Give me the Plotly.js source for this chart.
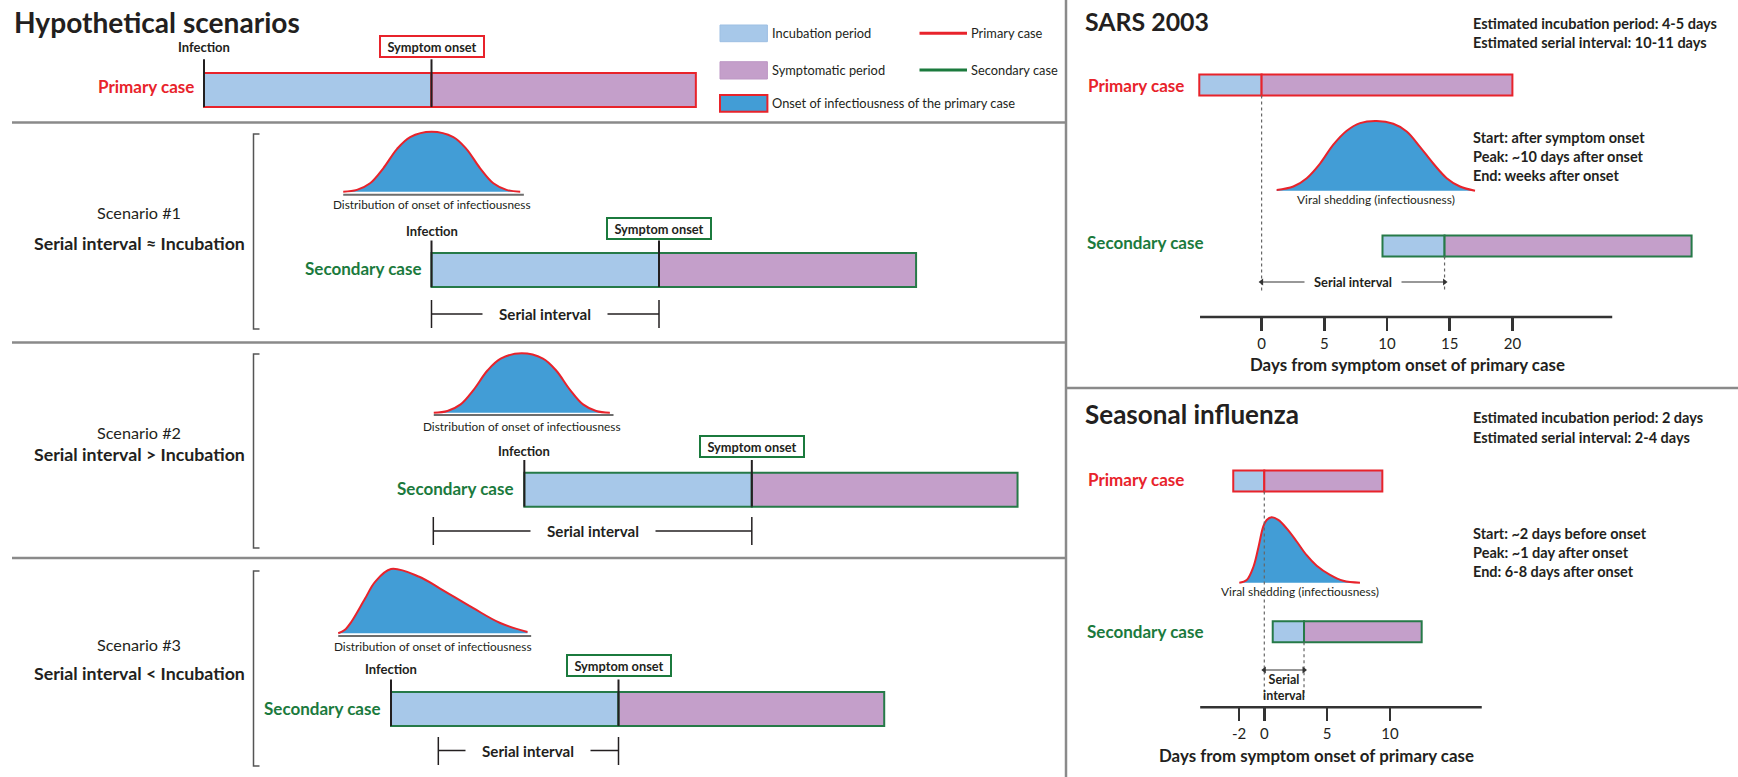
<!DOCTYPE html>
<html><head><meta charset="utf-8">
<script src="https://cdn.plot.ly/plotly-3.0.1.min.js"></script>
<style>html,body{margin:0;padding:0;background:#fff;} #chart{width:1738px;height:777px;}</style>
</head><body><div id="chart"></div>
<script>
// ================= DATA =================
// Hypothetical scenarios (schematic time units; primary infection = 0)
const hypoCases = ['Primary case', 'Secondary case', 'Secondary case', 'Secondary case'];
const hypoInfection = [0, 5.0, 7.04, 4.11];
const hypoOnset = [5.0, 10.0, 12.04, 9.11];
const hypoEnd = [10.81, 15.65, 17.88, 14.95];
const serialStart = [5.0, 5.04, 5.15];
const serialEnd = [10.0, 12.04, 9.11];
const scenarioNames = ['Scenario #1', 'Scenario #2', 'Scenario #3'];
const scenarioRelations = ['Serial interval \u2248 Incubation', 'Serial interval > Incubation', 'Serial interval < Incubation'];
// Distribution of onset of infectiousness: time and relative height
const dist1T = [3.06, 3.36, 3.65, 3.94, 4.24, 4.53, 5.0, 5.48, 5.77, 6.07, 6.36, 6.65, 6.95];
const dist1H = [0, 0.03, 0.14, 0.39, 0.71, 0.91, 1, 0.91, 0.71, 0.39, 0.14, 0.03, 0];
const dist2T = [5.05, 5.35, 5.64, 5.93, 6.23, 6.52, 6.98, 7.45, 7.74, 8.04, 8.33, 8.62, 8.92];
const dist2H = [0, 0.03, 0.14, 0.39, 0.71, 0.91, 1, 0.91, 0.71, 0.39, 0.14, 0.03, 0];
const dist3T = [2.95, 3.09, 3.24, 3.54, 3.76, 4.11, 4.73, 5.18, 5.92, 6.51, 7.11];
const dist3H = [0, 0.05, 0.18, 0.54, 0.80, 1, 0.88, 0.70, 0.39, 0.16, 0.02];
const legendLabels = ['Incubation period', 'Symptomatic period', 'Onset of infectiousness of the primary case', 'Primary case', 'Secondary case'];

// SARS 2003 (days from symptom onset of primary case)
const sarsPrimary = [-4.97, 0, 20.0];      // infection, onset, end
const sarsSecondary = [9.64, 14.59, 34.29];
const sarsSerial = [0, 14.59];
const sarsShedT = [1.2, 2.53, 3.6, 4.66, 5.72, 6.79, 7.85, 9.18, 10.5, 11.57, 12.63, 13.69, 14.76, 15.82, 17.02];
const sarsShedH = [0.01, 0.06, 0.18, 0.39, 0.66, 0.86, 0.97, 1, 0.96, 0.85, 0.63, 0.39, 0.18, 0.06, 0];
const sarsTicks = [0, 5, 10, 15, 20];
const sarsAxisExtent = [-4.91, 27.96];
const sarsNotes = ['Estimated incubation period: 4-5 days', 'Estimated serial interval: 10-11 days'];
const sarsShedNotes = ['Start: after symptom onset', 'Peak: ~10 days after onset', 'End: weeks after onset'];

// Seasonal influenza
const fluPrimary = [-2.47, 0, 9.39];
const fluSecondary = [0.67, 3.16, 12.52];
const fluSerial = [0, 3.16];
const fluShedT = [-1.99, -1.4, -0.87, -0.48, -0.08, 0.19, 0.59, 1.11, 1.78, 2.58, 3.37, 4.17, 5.23, 6.28, 7.61];
const fluShedH = [0, 0.04, 0.24, 0.53, 0.86, 0.96, 1, 0.96, 0.83, 0.63, 0.42, 0.26, 0.12, 0.03, 0];
const fluTicks = [-2, 0, 5, 10];
const fluAxisExtent = [-5.1, 17.3];
const fluNotes = ['Estimated incubation period: 2 days', 'Estimated serial interval: 2-4 days'];
const fluShedNotes = ['Start: ~2 days before onset', 'Peak: ~1 day after onset', 'End: 6-8 days after onset'];
const axisTitle = 'Days from symptom onset of primary case';

// ================= STYLE / LAYOUT CONSTANTS =================
const W = 1738, H = 777;
const FAMILY = 'Lato';
const FONT = 'Lato, Roboto, "Liberation Sans", sans-serif';
const RED = '#e8232b', GREEN = '#1b7a3d', GREEN_LINE = '#267a48', BLUE_L = '#a7c8e9',
      PURPLE = '#c49fca', BLUE_F = '#429dd6', DARK = '#231f20', SEP = '#8a8a8a';
const LEFT_W = 1066;
const hypoT0 = 204, hypoScale = 45.5;        // px of t=0, px per unit
const sarsX0 = 1261.6, sarsScale = 12.54;
const fluX0 = 1264.3, fluScale = 12.57;

const hypoBarY = [90, 270, 489.7, 709], hypoBarW = 34;
const hypoLabelY = [86, 268.5, 488.3, 708];
const infLabelY = [47, 231, 450.5, 669];
const onsetBoxY = [46.2, 228.5, 446.5, 665.5];
const markerTop = [59.3, 240.5, 460, 679.5];
const distBase = [191.7, 412.7, 633.3], distHeight = [60, 59.4, 64.3], distLineY = [194.7, 415, 636], distCapY = [204.5, 426.5, 646];
const serialY = [314, 531, 750.5], serialTop = [300, 517, 737], serialBot = [328, 545, 765];
const bracketY = [[134, 329], [354, 548], [571, 766]], bracketX = 253.5;
const scenY = [[212, 243], [432, 454], [644, 673]], scenX = 139;

// font sizes fitted to the text widths of the reference
const ctx = document.createElement('canvas').getContext('2d');
function fit(text, weight, target) {
  ctx.font = `${weight} 100px ${FAMILY}`;
  return 100 * target / ctx.measureText(text).width;
}
const SZ = {
  title: fit('Hypothetical scenarios', 700, 286),
  sars: fit('SARS 2003', 700, 124),
  flu: fit('Seasonal influenza', 700, 214),
  notes: fit(sarsNotes[0], 700, 244),
  cases: fit('Secondary case', 700, 117),
  scen: fit('Scenario #1', 400, 84),
  rel: fit(scenarioRelations[0], 700, 211),
  inf: fit('Infection', 700, 52),
  onset: fit('Symptom onset', 700, 89),
  dist: fit('Distribution of onset of infectiousness', 400, 198),
  serialL: fit('Serial interval', 700, 92),
  legend: fit(legendLabels[2], 400, 244),
  shed: fit('Viral shedding (infectiousness)', 400, 158),
  serialR: fit('Serial interval', 700, 78),
  serialF: fit('interval', 700, 43),
  axisTitle: fit(axisTitle, 700, 316),
  tick: 15
};

const px = x => x / W;
const traces = [];
const shapes = [];
const annotations = [];

function bar(xa, y, start, end, fill, lc, w) {
  return {type: 'bar', orientation: 'h', xaxis: xa, yaxis: 'y', y: [y], base: [start], x: [end - start],
    width: [w], marker: {color: fill, line: {color: lc, width: 2}}, hoverinfo: 'skip', showlegend: false};
}
function seg(xa, xs, ys, color, width, dash) {
  return {type: 'scatter', mode: 'lines', xaxis: xa, yaxis: 'y', x: xs, y: ys,
    line: {color: color, width: width, dash: dash || 'solid'}, hoverinfo: 'skip', showlegend: false};
}
function curve(xa, T, Hh, base, height) {
  traces.push({type: 'scatter', mode: 'lines', xaxis: xa, yaxis: 'y', x: T, y: T.map(() => base),
    line: {width: 0, color: 'rgba(0,0,0,0)'}, hoverinfo: 'skip', showlegend: false});
  traces.push({type: 'scatter', mode: 'lines', xaxis: xa, yaxis: 'y', x: T, y: Hh.map(h => base - h * height),
    line: {color: RED, width: 2, shape: 'spline', smoothing: 1}, fill: 'tonexty', fillcolor: BLUE_F,
    hoverinfo: 'skip', showlegend: false});
}
function ann(text, x, y, o) {
  o = o || {};
  return Object.assign({text: text, x: x, y: y, xref: o.xref || 'paper', yref: 'y', showarrow: false,
    xanchor: o.xanchor || 'left', yanchor: 'middle',
    font: {family: FONT, size: o.size || 14, color: o.color || DARK, weight: o.weight || 400}},
    o.extra || {});
}
function hline(x0, x1, y, color, w) {
  shapes.push({type: 'line', xref: 'paper', yref: 'y', x0: px(x0), x1: px(x1), y0: y, y1: y, line: {color: color, width: w}});
}

// ================= LEFT PANEL =================
annotations.push(ann('Hypothetical scenarios', px(12), 22, {size: SZ.title, weight: 700}));

for (let i = 0; i < 4; i++) {
  const col = i === 0 ? RED : GREEN_LINE;
  traces.push(bar('x', hypoBarY[i], hypoInfection[i], hypoOnset[i], BLUE_L, col, hypoBarW));
  traces.push(bar('x', hypoBarY[i], hypoOnset[i], hypoEnd[i], PURPLE, col, hypoBarW));
  const bot = hypoBarY[i] + hypoBarW / 2;
  traces.push(seg('x', [hypoInfection[i], hypoInfection[i], null, hypoOnset[i], hypoOnset[i]],
    [markerTop[i], bot, null, markerTop[i], bot], DARK, 2));
  annotations.push(ann(hypoCases[i], hypoInfection[i], hypoLabelY[i],
    {xref: 'x', xanchor: 'right', size: SZ.cases, weight: 700, color: i === 0 ? RED : GREEN, extra: {xshift: -8}}));
  annotations.push(ann('Infection', hypoInfection[i], infLabelY[i], {xref: 'x', xanchor: 'center', size: SZ.inf, weight: 700}));
  annotations.push(ann('Symptom onset', hypoOnset[i], onsetBoxY[i], {xref: 'x', xanchor: 'center', size: SZ.onset, weight: 700,
    extra: {bordercolor: i === 0 ? RED : GREEN, borderwidth: 2, bgcolor: '#ffffff', width: 100, height: 17, borderpad: 1}}));
}

const distT = [dist1T, dist2T, dist3T], distH = [dist1H, dist2H, dist3H];
for (let k = 0; k < 3; k++) {
  const T = distT[k];
  traces.push(seg('x', [T[0], T[T.length - 1] + 0.08], [distLineY[k], distLineY[k]], '#6d6d6d', 2));
  curve('x', T, distH[k], distBase[k], distHeight[k]);
  annotations.push(ann('Distribution of onset of infectiousness', (T[0] + T[T.length - 1]) / 2, distCapY[k],
    {xref: 'x', xanchor: 'center', size: SZ.dist}));
  // serial interval bracket
  traces.push(seg('x', [serialStart[k], serialEnd[k]], [serialY[k], serialY[k]], DARK, 1.5));
  traces.push(seg('x', [serialStart[k], serialStart[k], null, serialEnd[k], serialEnd[k]],
    [serialTop[k], serialBot[k], null, serialTop[k], serialBot[k]], DARK, 1.5));
  annotations.push(ann('Serial interval', (serialStart[k] + serialEnd[k]) / 2, serialY[k],
    {xref: 'x', xanchor: 'center', size: SZ.serialL, weight: 700, extra: {bgcolor: '#ffffff', width: 122}}));
  // scenario text + bracket
  annotations.push(ann(scenarioNames[k], px(scenX), scenY[k][0], {xanchor: 'center', size: SZ.scen}));
  annotations.push(ann(scenarioRelations[k], px(scenX), scenY[k][1], {xanchor: 'center', size: SZ.rel, weight: 700}));
  const bx = px(bracketX), bx2 = px(bracketX + 6);
  shapes.push({type: 'path', xref: 'paper', yref: 'y',
    path: `M ${bx2},${bracketY[k][0]} L ${bx},${bracketY[k][0]} L ${bx},${bracketY[k][1]} L ${bx2},${bracketY[k][1]}`,
    line: {color: '#555', width: 1.5}});
}

// legend
const legRects = [[25, 41.7, BLUE_L, '#9dbfe3'], [61.7, 79, PURPLE, '#bd97c4'], [95, 111.7, BLUE_F, RED]];
legRects.forEach((r, i) => {
  shapes.push({type: 'rect', xref: 'paper', yref: 'y', x0: px(720), x1: px(767.4), y0: r[0], y1: r[1],
    fillcolor: r[2], line: {color: r[3], width: i === 2 ? 2 : 1}});
  annotations.push(ann(legendLabels[i], px(770), (r[0] + r[1]) / 2, {size: SZ.legend}));
});
[[33.3, RED], [70, GREEN]].forEach((l, i) => {
  hline(919.5, 967, l[0], l[1], 3);
  annotations.push(ann(legendLabels[3 + i], px(969), l[0], {size: SZ.legend}));
});

// separators
shapes.push({type: 'line', xref: 'paper', yref: 'y', x0: px(1066), x1: px(1066), y0: 0, y1: H, line: {color: SEP, width: 2.5}});
[122.5, 342.5, 558].forEach(y => hline(12, 1066, y, SEP, 2.5));
hline(1066, W, 388, SEP, 2.5);

// ================= RIGHT PANELS =================
function diseasePanel(xa, o) {
  const P = o.primary, S = o.secondary;
  traces.push(bar(xa, o.barY[0], P[0], P[1], BLUE_L, RED, 21));
  traces.push(bar(xa, o.barY[0], P[1], P[2], PURPLE, RED, 21));
  traces.push(bar(xa, o.barY[1], S[0], S[1], BLUE_L, GREEN_LINE, 21));
  traces.push(bar(xa, o.barY[1], S[1], S[2], PURPLE, GREEN_LINE, 21));
  curve(xa, o.shedT, o.shedH, o.shedBase, o.shedHeight);
  annotations.push(ann('Viral shedding (infectiousness)', (o.shedT[0] + o.shedT[o.shedT.length - 1]) / 2, o.capY,
    {xref: xa, xanchor: 'center', size: SZ.shed}));
  // dotted guides
  traces.push(seg(xa, [o.serial[0], o.serial[0]], [o.barY[0] + 10.5, o.dashBot[0]], '#666', 1.2, 'dot'));
  traces.push(seg(xa, [o.serial[1], o.serial[1]], [o.barY[1] + 10.5, o.dashBot[1]], '#666', 1.2, 'dot'));
  // serial interval arrow
  traces.push({type: 'scatter', mode: 'lines+markers', xaxis: xa, yaxis: 'y', x: o.serial, y: [o.arrowY, o.arrowY],
    line: {color: '#333', width: 1.2}, marker: {symbol: ['triangle-left', 'triangle-right'], size: 6, color: '#333'},
    hoverinfo: 'skip', showlegend: false});
  // axis line
  traces.push(seg(xa, o.axisExt, [o.axisY, o.axisY], '#333', 2.5));
  annotations.push(ann(axisTitle, o.titleX, o.titleY, {xref: xa, xanchor: 'center', size: SZ.axisTitle, weight: 700}));
  // texts
  annotations.push(ann(o.title, px(1083), o.titleTop, {size: o.titleSize, weight: 700}));
  o.notes.forEach((t, i) => annotations.push(ann(t, px(1471), o.notesY[i], {size: SZ.notes, weight: 700})));
  o.shedNotes.forEach((t, i) => annotations.push(ann(t, px(1471), o.shedNotesY[i], {size: SZ.notes, weight: 700})));
  annotations.push(ann('Primary case', px(1086), o.labelY[0], {size: SZ.cases, weight: 700, color: RED}));
  annotations.push(ann('Secondary case', px(1085), o.labelY[1], {size: SZ.cases, weight: 700, color: GREEN}));
}

diseasePanel('x2', {primary: sarsPrimary, secondary: sarsSecondary, serial: sarsSerial, barY: [85, 246],
  shedT: sarsShedT, shedH: sarsShedH, shedBase: 190.7, shedHeight: 69.7, capY: 199.5,
  dashBot: [292, 292], arrowY: 282, axisExt: sarsAxisExtent, axisY: 317, titleX: 11.67, titleY: 364,
  title: 'SARS 2003', titleSize: SZ.sars, titleTop: 21, notes: sarsNotes, notesY: [23.3, 42.7], shedNotes: sarsShedNotes,
  shedNotesY: [137.3, 156.7, 175.7], labelY: [85, 242]});
annotations.push(ann('Serial interval', (sarsSerial[0] + sarsSerial[1]) / 2, 282,
  {xref: 'x2', xanchor: 'center', size: SZ.serialR, weight: 700, extra: {bgcolor: '#ffffff', width: 94}}));

diseasePanel('x3', {primary: fluPrimary, secondary: fluSecondary, serial: fluSerial, barY: [481, 631.7],
  shedT: fluShedT, shedH: fluShedH, shedBase: 582.7, shedHeight: 65.4, capY: 591.5,
  dashBot: [700, 697], arrowY: 670, axisExt: fluAxisExtent, axisY: 707.3, titleX: 4.15, titleY: 755,
  title: 'Seasonal influenza', titleSize: SZ.flu, titleTop: 414.3, notes: fluNotes, notesY: [417.7, 437.7], shedNotes: fluShedNotes,
  shedNotesY: [533, 552.3, 571.7], labelY: [479.5, 631.7]});
annotations.push(ann('Serial<br>interval', (fluSerial[0] + fluSerial[1]) / 2, 687.5,
  {xref: 'x3', xanchor: 'center', size: Math.min(SZ.serialF, 12.5), weight: 700, extra: {borderpad: 0}}));

// ================= AXES =================
const dom2 = [LEFT_W / W, 1];
function dayAxis(x0, k, ticks, yPos) {
  return {domain: dom2, range: [(LEFT_W - x0) / k, (W - x0) / k], anchor: 'free', position: 1 - yPos / H,
    showline: false, showgrid: false, zeroline: false, ticks: 'outside', ticklen: 13, tickwidth: 2.5,
    tickcolor: '#333', tickmode: 'array', tickvals: ticks, ticktext: ticks.map(String),
    tickfont: {family: FONT, size: SZ.tick, color: DARK}, fixedrange: true};
}
const layout = {
  width: W, height: H, margin: {l: 0, r: 0, t: 0, b: 0}, paper_bgcolor: '#fff', plot_bgcolor: 'rgba(0,0,0,0)',
  showlegend: false, barmode: 'overlay', hovermode: false,
  xaxis: {domain: [0, LEFT_W / W], range: [-hypoT0 / hypoScale, (LEFT_W - hypoT0) / hypoScale], visible: false, fixedrange: true},
  xaxis2: dayAxis(sarsX0, sarsScale, sarsTicks, 317),
  xaxis3: dayAxis(fluX0, fluScale, fluTicks, 707.3),
  yaxis: {domain: [0, 1], range: [H, 0], visible: false, fixedrange: true},
  shapes: shapes, annotations: annotations
};
Plotly.newPlot('chart', traces, layout, {displayModeBar: false, staticPlot: true});
</script></body></html>
